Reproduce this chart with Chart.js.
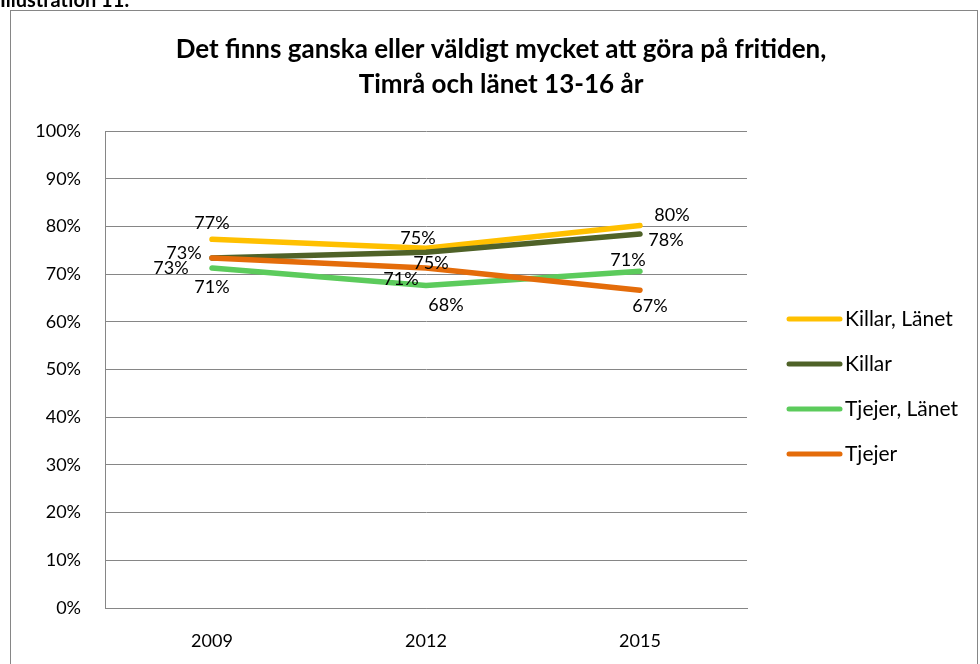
<!DOCTYPE html>
<html>
<head>
<meta charset="utf-8">
<script src="https://cdn.jsdelivr.net/npm/chart.js@4.4.0/dist/chart.umd.min.js"></script>
<style>
  html, body { margin: 0; padding: 0; background: #fff; }
  #wrap { position: relative; width: 980px; height: 664px; }
</style>
</head>
<body>
<div id="wrap"><canvas id="chart"></canvas></div>
<script>
// år och andelar i procent
var years = ['2009', '2012', '2015'];
var killarLanet = [77.3, 75.4, 80.2];
var killar = [73.4, 74.6, 78.4];
var tjejerLanet = [71.3, 67.6, 70.6];
var tjejer = [73.4, 71.3, 66.6];
var seriesNames = ['Killar, Länet', 'Killar', 'Tjejer, Länet', 'Tjejer'];
var yTicks = [0, 10, 20, 30, 40, 50, 60, 70, 80, 90, 100];

var colors = ['#FFC000', '#4F6228', '#5CCB5C', '#E46C0A'];
// var etikettens förskjutning från punkten (dx, dy)
var labelOffsets = [
  [[0, -16], [-8, -10], [32, -10]],
  [[-28, -5], [5, 11], [26, 6]],
  [[0, 19], [20, 20], [-12, -11]],
  [[-41, 10], [-25, 11], [10, 16]]
];

var FONT = 'Lato, Calibri, "Liberation Sans", sans-serif';

var frame = {
  id: 'frame',
  beforeDraw: function(chart) {
    var c = chart.ctx;
    c.save();
    c.fillStyle = '#fff';
    c.fillRect(0, 0, chart.width, chart.height);
    c.strokeStyle = '#868686';
    c.lineWidth = 1;
    c.strokeRect(10.5, 10.5, 967, 700);
    c.fillStyle = '#000';
    c.font = 'bold 20px ' + FONT;
    c.textBaseline = 'alphabetic';
    c.fillText('Illustration 11:', 0, 7);
    c.font = 'bold 26px ' + FONT;
    c.textAlign = 'center';
    c.textBaseline = 'middle';
    c.fillText('Det finns ganska eller väldigt mycket att göra på fritiden,', 501, 50);
    c.fillText('Timrå och länet 13-16 år', 501, 85);
    c.restore();
  },
  afterDatasetsDraw: function(chart) {
    var c = chart.ctx;
    c.save();
    c.fillStyle = '#000';
    c.font = '18px ' + FONT;
    c.textAlign = 'center';
    c.textBaseline = 'middle';
    chart.data.datasets.forEach(function(ds, i) {
      var meta = chart.getDatasetMeta(i);
      meta.data.forEach(function(pt, j) {
        var off = labelOffsets[i][j];
        c.fillText(Math.round(ds.data[j]) + '%', pt.x + off[0], pt.y + off[1]);
      });
    });
    // förklaring till höger
    c.font = '21px ' + FONT;
    c.textAlign = 'left';
    c.lineCap = 'round';
    c.lineWidth = 5;
    chart.data.datasets.forEach(function(ds, i) {
      var y = 319 + i * 45;
      c.strokeStyle = ds.borderColor;
      c.beginPath();
      c.moveTo(789, y);
      c.lineTo(840, y);
      c.stroke();
      c.fillText(ds.label, 845, y);
    });
    c.restore();
  }
};

var series = [killarLanet, killar, tjejerLanet, tjejer];
var datasets = series.map(function(d, i) {
  return {
    label: seriesNames[i],
    data: d,
    borderColor: colors[i],
    backgroundColor: colors[i],
    borderWidth: 5.5,
    borderCapStyle: 'round',
    borderJoinStyle: 'round',
    pointRadius: 0,
    tension: 0,
    order: 3 - i
  };
});

var ctx = document.getElementById('chart').getContext('2d');
var myChart = new Chart(ctx, {
  type: 'line',
  data: { labels: years, datasets: datasets },
  options: {
    responsive: true,
    maintainAspectRatio: false,
    animation: false,
    events: [],
    layout: { padding: { top: 131, left: 30, right: 233, bottom: 0 } },
    plugins: { legend: { display: false }, title: { display: false }, tooltip: { enabled: false } },
    scales: {
      x: {
        offset: true,
        grid: { display: false, drawTicks: false },
        border: { color: '#868686', width: 1 },
        ticks: { color: '#000', font: { family: FONT, size: 18 }, padding: 22 },
        afterFit: function(s) { s.height = 56; }
      },
      y: {
        min: 0,
        max: 100,
        afterBuildTicks: function(s) { s.ticks = yTicks.map(function(v) { return { value: v }; }); },
        grid: { color: '#868686', lineWidth: 1, drawTicks: false },
        border: { color: '#868686', width: 1 },
        ticks: {
          color: '#000',
          font: { family: FONT, size: 18 },
          padding: 24,
          callback: function(v) { return v + '%'; }
        },
        afterFit: function(s) { s.width = 75; }
      }
    }
  },
  plugins: [frame]
});
</script>
</body>
</html>
